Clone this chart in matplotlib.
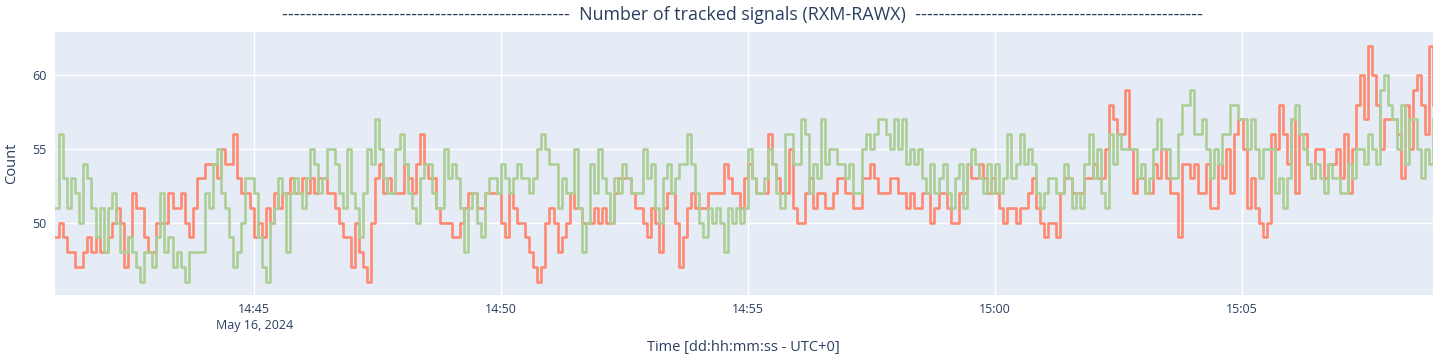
import numpy as np
import pandas as pd
import matplotlib
matplotlib.use("Agg")
import matplotlib.pyplot as plt
import matplotlib.dates as mdates
from matplotlib.ticker import FuncFormatter

# ---- tracked signal counts (one row ~ one minute) ----
red_counts = [
    49, 50, 49, 48, 48, 47, 47, 48, 49, 48, 49, 48,
    48, 49, 50, 51, 50, 47, 49, 52, 51, 51, 49, 48,
    48, 50, 50, 50, 52, 51, 51, 52, 50, 49, 51, 53,
    53, 54, 54, 54, 53, 55, 54, 54, 56, 53, 52, 52,
    51, 49, 50, 49, 51, 50, 52, 51, 52, 52, 53, 52,
    52, 53, 52, 53, 52, 53, 53, 52, 52, 51, 50, 49,
    49, 47, 50, 48, 47, 46, 50, 53, 54, 52, 53, 52,
    52, 52, 54, 53, 52, 54, 56, 54, 53, 53, 51, 50,
    50, 50, 49, 49, 50, 51, 52, 52, 51, 51, 52, 52,
    52, 52, 50, 49, 52, 51, 50, 50, 49, 48, 47, 46,
    47, 50, 51, 50, 48, 49, 50, 52, 51, 51, 50, 50,
    50, 51, 50, 51, 50, 50, 52, 53, 53, 53, 52, 51,
    51, 50, 49, 51, 50, 48, 51, 52, 52, 50, 47, 49,
    51, 52, 51, 51, 51, 52, 52, 52, 52, 54, 53, 52,
    52, 51, 53, 54, 53, 52, 52, 52, 56, 54, 53, 52,
    52, 55, 51, 50, 50, 52, 53, 51, 52, 52, 51, 51,
    52, 53, 53, 52, 52, 51, 51, 53, 53, 54, 53, 52,
    52, 52, 53, 53, 52, 52, 51, 52, 51, 51, 52, 52,
    50, 51, 52, 52, 51, 50, 50, 52, 52, 54, 53, 53,
    54, 53, 52, 53, 52, 51, 50, 51, 51, 50, 51, 51,
    52, 53, 51, 50, 49, 50, 50, 49, 52, 53, 53, 52,
    52, 52, 53, 53, 54, 53, 53, 55, 58, 57, 56, 56,
    59, 55, 52, 53, 53, 52, 52, 54, 53, 55, 53, 52,
    52, 49, 54, 54, 53, 54, 52, 52, 54, 51, 51, 54,
    53, 55, 52, 56, 57, 55, 51, 53, 51, 50, 49, 50,
    56, 55, 58, 56, 54, 57, 52, 56, 56, 54, 53, 55,
    55, 53, 54, 54, 55, 53, 56, 52, 55, 58, 60, 57,
    62, 60, 58, 55, 57, 57, 57, 56, 53, 58, 55, 59,
    60, 58, 56, 62, 58,
]

green_counts = [
    51, 56, 53, 51, 53, 52, 50, 54, 53, 51, 49, 51,
    48, 51, 52, 50, 48, 48, 49, 48, 47, 46, 48, 48,
    47, 49, 52, 48, 49, 47, 48, 47, 46, 48, 48, 48,
    48, 52, 51, 54, 55, 52, 51, 49, 47, 48, 50, 53,
    53, 52, 49, 47, 46, 50, 51, 53, 52, 48, 52, 53,
    52, 51, 53, 55, 54, 52, 53, 55, 55, 54, 52, 51,
    55, 52, 51, 49, 52, 55, 54, 57, 55, 53, 52, 52,
    55, 56, 54, 52, 51, 50, 53, 54, 54, 52, 51, 51,
    55, 53, 54, 53, 51, 48, 51, 52, 50, 49, 52, 53,
    53, 52, 54, 53, 52, 53, 54, 53, 53, 52, 53, 55,
    56, 55, 54, 54, 51, 53, 52, 52, 55, 51, 48, 50,
    54, 52, 55, 53, 52, 50, 53, 52, 54, 53, 52, 52,
    52, 55, 53, 54, 51, 50, 53, 54, 52, 53, 54, 54,
    56, 54, 52, 50, 49, 51, 50, 51, 50, 48, 51, 50,
    51, 50, 51, 55, 53, 52, 52, 53, 55, 54, 52, 51,
    56, 56, 54, 54, 57, 56, 52, 54, 53, 57, 54, 55,
    55, 54, 54, 53, 54, 52, 52, 55, 56, 55, 56, 57,
    57, 56, 55, 57, 55, 57, 54, 55, 54, 55, 53, 52,
    54, 52, 53, 54, 52, 51, 53, 54, 51, 54, 55, 54,
    53, 52, 54, 52, 54, 52, 53, 56, 53, 54, 56, 54,
    55, 54, 52, 51, 52, 53, 53, 52, 52, 54, 53, 51,
    52, 51, 54, 56, 53, 55, 52, 51, 56, 54, 56, 55,
    55, 55, 55, 53, 54, 52, 53, 55, 57, 55, 55, 53,
    53, 56, 58, 58, 59, 56, 56, 57, 55, 53, 55, 54,
    56, 56, 58, 58, 57, 57, 55, 57, 55, 53, 55, 55,
    55, 52, 53, 51, 53, 57, 58, 56, 55, 54, 53, 54,
    53, 52, 54, 53, 53, 52, 52, 54, 53, 55, 55, 54,
    56, 55, 54, 59, 60, 58, 57, 55, 58, 54, 57, 57,
    55, 53, 55, 54, 57,
]

t_start = "2024-05-16 14:40:58"
t_end = "2024-05-16 15:08:52"
times = pd.date_range(t_start, t_end, periods=len(red_counts))

TEXT = "#2a3f5f"
plt.rcParams["font.family"] = ["Open Sans", "DejaVu Sans"]

fig = plt.figure(figsize=(14.42, 3.61), dpi=100)
ax = fig.add_axes([55 / 1442, 1 - 295 / 361, (1433 - 55) / 1442, (295 - 31.7) / 361])
ax.set_facecolor("#E5ECF6")

ax.plot(times, red_counts, drawstyle="steps-post", color="#FF8A72", lw=1.9)
ax.plot(times, green_counts, drawstyle="steps-post", color="#ADCF97", lw=1.9)

ax.set_xlim(times[0], times[-1])
ax.set_ylim(45.1, 62.95)
ax.set_yticks([50, 55, 60])

ax.xaxis.set_major_locator(mdates.MinuteLocator(byminute=range(0, 60, 5)))


def fmt_time(x, pos):
    d = mdates.num2date(x)
    label = d.strftime("%H:%M")
    if pos == 0:
        label += "\nMay 16, 2024"
    return label


ax.xaxis.set_major_formatter(FuncFormatter(fmt_time))

ax.grid(True, color="white", lw=1)
ax.set_axisbelow(True)
for s in ax.spines.values():
    s.set_visible(False)
ax.tick_params(length=0, labelsize=9, labelcolor=TEXT, pad=6)
for lab in ax.get_xticklabels():
    lab.set_linespacing(1.3)

fig.text(12 / 1442, 1 - 163 / 361, "Count", rotation=90, ha="center", va="center",
         fontsize=10.5, color=TEXT)
fig.text(743 / 1442, 1 - 348 / 361, "Time [dd:hh:mm:ss - UTC+0]", ha="center", va="center",
         fontsize=10.5, color=TEXT)

dashes = "-" * 49
fig.text(743 / 1442, 1 - 15 / 361, dashes + "  Number of tracked signals (RXM-RAWX)  " + dashes,
         ha="center", va="center", fontsize=12.9, color=TEXT)

fig.savefig("out.png", dpi=100)
